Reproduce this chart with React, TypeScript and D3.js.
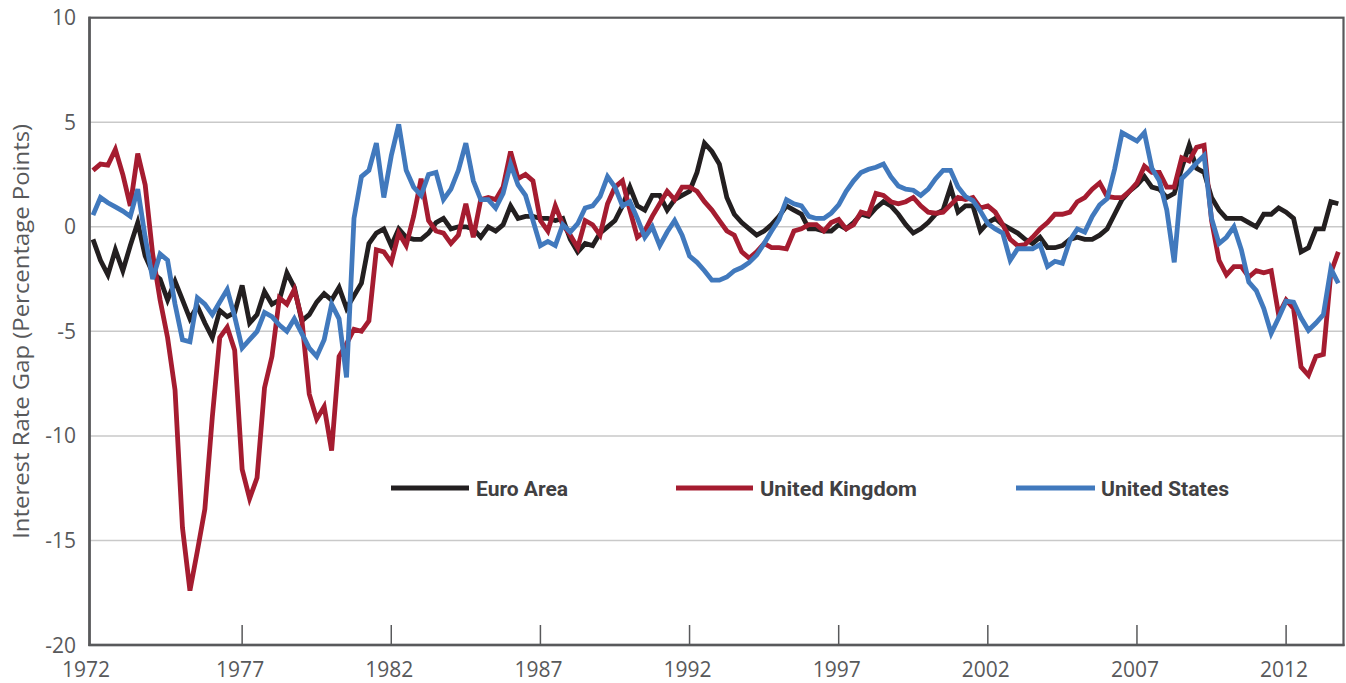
import * as d3 from 'd3';

const START_YEAR = 1972;
const YEAR_TICKS = [1972, 1977, 1982, 1987, 1992, 1997, 2002, 2007, 2012];
const VALUE_TICKS = [10, 5, 0, -5, -10, -15, -20];

// quarterly gaps, 1972Q1 .. 2013Q4
const euroArea = [
  -0.6, -1.6, -2.3, -1.1, -2.1, -0.9, 0.2, -1.4,
  -2.2, -2.5, -3.5, -2.6, -3.5, -4.4, -3.8, -4.6,
  -5.3, -4.0, -4.3, -4.1, -2.8, -4.6, -4.2, -3.1,
  -3.7, -3.5, -2.2, -2.9, -4.5, -4.2, -3.6, -3.2,
  -3.5, -2.9, -3.9, -3.3, -2.7, -0.8, -0.3, -0.1,
  -0.9, -0.1, -0.5, -0.6, -0.6, -0.3, 0.2, 0.4,
  -0.1, 0.0, 0.0, -0.1, -0.5, 0.0, -0.2, 0.1,
  1.0, 0.4, 0.5, 0.5, 0.4, 0.4, 0.3, 0.4,
  -0.6, -1.2, -0.8, -0.9, -0.3, 0.0, 0.3, 1.0,
  1.9, 1.0, 0.8, 1.5, 1.5, 0.8, 1.3, 1.5,
  1.7, 2.6, 4.0, 3.6, 3.0, 1.4, 0.6, 0.2,
  -0.1, -0.4, -0.2, 0.1, 0.5, 1.0, 0.8, 0.6,
  -0.1, -0.1, -0.2, -0.2, 0.1, -0.1, 0.2, 0.6,
  0.5, 0.9, 1.2, 1.0, 0.6, 0.1, -0.3, -0.1,
  0.2, 0.6, 0.8, 1.9, 0.7, 1.0, 1.0, -0.2,
  0.2, 0.4, 0.1, -0.1, -0.3, -0.6, -0.8, -0.5,
  -1.0, -1.0, -0.9, -0.6, -0.5, -0.6, -0.6, -0.4,
  -0.1, 0.6, 1.3, 1.7, 2.0, 2.4, 1.9, 1.8,
  1.4, 1.6, 2.8, 3.9, 2.8, 2.6, 1.4, 0.8,
  0.4, 0.4, 0.4, 0.2, 0.0, 0.6, 0.6, 0.9,
  0.7, 0.4, -1.2, -1.0, -0.1, -0.1, 1.2, 1.1,
];

const unitedKingdom = [
  2.7, 3.0, 2.95, 3.7, 2.5, 1.0, 3.5, 2.0,
  -1.3, -3.5, -5.3, -7.8, -14.4, -17.4, -15.5, -13.5,
  -9.1, -5.3, -4.8, -5.9, -11.6, -13.0, -12.0, -7.7,
  -6.2, -3.4, -3.7, -3.0, -4.4, -8.0, -9.2, -8.6,
  -10.7, -6.2, -5.6, -4.9, -5.0, -4.5, -1.1, -1.2,
  -1.7, -0.3, -0.9, 0.5, 2.3, 0.3, -0.2, -0.3,
  -0.8, -0.4, 1.1, -0.5, 1.3, 1.4, 1.3, 1.9,
  3.6, 2.3, 2.5, 2.2, 0.3, -0.2, 1.0, 0.1,
  -0.4, -1.0, 0.3, 0.1, -0.4, 1.1, 1.9, 2.2,
  0.8, -0.5, -0.2, 0.5, 1.1, 1.7, 1.3, 1.9,
  1.9, 1.7, 1.2, 0.8, 0.3, -0.2, -0.4, -1.2,
  -1.5, -1.2, -0.8, -1.0, -1.0, -1.05, -0.2, -0.1,
  0.1, 0.1, -0.2, 0.2, 0.35, -0.1, 0.1, 0.7,
  0.6, 1.6, 1.5, 1.2, 1.1, 1.2, 1.4, 1.0,
  0.7, 0.65, 0.7, 1.05, 1.4, 1.3, 1.4, 0.9,
  1.0, 0.7, 0.1, -0.6, -0.9, -0.85, -0.5, -0.1,
  0.2, 0.6, 0.6, 0.7, 1.2, 1.4, 1.8, 2.1,
  1.45, 1.4, 1.4, 1.7, 2.1, 2.9, 2.6, 2.6,
  1.9, 1.9, 3.3, 3.15, 3.8, 3.9, 0.3, -1.6,
  -2.3, -1.9, -1.9, -2.4, -2.1, -2.2, -2.1, -4.2,
  -3.5, -3.9, -6.7, -7.1, -6.2, -6.1, -2.2, -1.2,
];

const unitedStates = [
  0.56, 1.4, 1.15, 0.95, 0.75, 0.5, 1.8, -0.5,
  -2.5, -1.3, -1.6, -3.7, -5.4, -5.5, -3.4, -3.7,
  -4.2, -3.6, -3.0, -4.3, -5.8, -5.4, -5.0, -4.1,
  -4.3, -4.7, -5.0, -4.4, -5.1, -5.8, -6.2, -5.4,
  -3.7, -4.4, -7.2, 0.4, 2.4, 2.7, 4.0, 1.4,
  3.4, 4.9, 2.7, 1.9, 1.5, 2.5, 2.6, 1.3,
  1.8, 2.7, 4.0, 2.2, 1.3, 1.3, 0.9, 1.6,
  3.0, 2.0, 1.5, 0.3, -0.9, -0.7, -0.9, 0.1,
  -0.25, 0.15, 0.9, 1.0, 1.45, 2.4, 1.9, 1.0,
  1.2, 0.4, -0.5, 0.0, -0.9, -0.25, 0.3, -0.4,
  -1.4, -1.7, -2.1, -2.55, -2.55, -2.4, -2.1, -1.95,
  -1.7, -1.35, -0.8, -0.2, 0.35, 1.3, 1.1, 1.0,
  0.5, 0.4, 0.4, 0.65, 1.05, 1.7, 2.2, 2.6,
  2.75, 2.85, 3.0, 2.4, 1.95, 1.8, 1.75, 1.5,
  1.8, 2.3, 2.7, 2.7, 1.9, 1.45, 1.25, 0.75,
  0.15, -0.1, -0.3, -1.6, -1.05, -1.05, -1.05, -0.85,
  -1.9, -1.65, -1.75, -0.65, -0.1, -0.25, 0.5, 1.05,
  1.35, 2.75, 4.5, 4.3, 4.1, 4.5, 2.8, 2.2,
  0.8, -1.7, 2.3, 2.65, 3.05, 3.4, 0.4, -0.8,
  -0.5, 0.0, -1.1, -2.65, -3.05, -3.9, -5.1, -4.35,
  -3.55, -3.6, -4.35, -4.95, -4.6, -4.2, -2.0, -2.7,
];

const SERIES = [
  { name: 'Euro Area', values: euroArea, color: '#231f20' },
  { name: 'United Kingdom', values: unitedKingdom, color: '#a51c30' },
  { name: 'United States', values: unitedStates, color: '#4179bd' },
];

// legend placement (pixel layout)
const LEGEND = [
  { x1: 391, x2: 469, tx: 476, tw: 92 },
  { x1: 676, x2: 753, tx: 760, tw: 157 },
  { x1: 1016, x2: 1095, tx: 1101, tw: 128 },
];

const W = 1346;
const H = 683;
const LEFT = 89.5;
const RIGHT = 1343.5;
const TOP = 17.7;
const BOTTOM = 645;
const AXIS = '#58595b';
const FONT = '"Open Sans", "DejaVu Sans", sans-serif';

export default function App() {
  const x = d3.scaleLinear().domain([1972, 2013.75]).range([93, 1338.3]);
  const y = d3.scaleLinear().domain([-20, 10]).range([BOTTOM, TOP]);

  const line = d3
    .line<number>()
    .x((_, i) => x(START_YEAR + i / 4))
    .y((d) => y(d));

  return (
    <svg
      width={W}
      height={H}
      style={{ position: 'absolute', left: 0, top: 0, background: '#fff' }}
    >
      {/* grid */}
      {VALUE_TICKS.filter((v) => v > -20 && v < 10).map((v) => (
        <line
          key={v}
          x1={LEFT}
          x2={RIGHT}
          y1={y(v)}
          y2={y(v)}
          stroke="#c9c9c9"
          strokeWidth={1.5}
        />
      ))}

      {/* series */}
      {SERIES.map((s) => (
        <path
          key={s.name}
          d={line(s.values) || ''}
          fill="none"
          stroke={s.color}
          strokeWidth={4.8}
          strokeLinejoin="miter"
          strokeMiterlimit={4}
        />
      ))}

      {/* frame and axes */}
      <rect
        x={LEFT}
        y={TOP}
        width={RIGHT - LEFT}
        height={BOTTOM - TOP}
        fill="none"
        stroke={AXIS}
        strokeWidth={2.2}
      />
      <line x1={LEFT} x2={LEFT} y1={TOP - 1} y2={BOTTOM + 1} stroke={AXIS} strokeWidth={2.5} />
      <line x1={LEFT - 1} x2={RIGHT + 1} y1={BOTTOM} y2={BOTTOM} stroke={AXIS} strokeWidth={2.5} />
      {YEAR_TICKS.slice(1).map((yr) => (
        <line
          key={yr}
          x1={x(yr)}
          x2={x(yr)}
          y1={BOTTOM - 20}
          y2={BOTTOM}
          stroke={AXIS}
          strokeWidth={1.5}
        />
      ))}

      {/* tick labels */}
      {YEAR_TICKS.map((yr) => (
        <text
          key={yr}
          x={yr === START_YEAR ? LEFT - 3.5 : x(yr) - 2}
          y={677}
          textAnchor="middle"
          fontFamily={FONT}
          fontSize={21}
          fill={AXIS}
        >
          {yr}
        </text>
      ))}
      {VALUE_TICKS.map((v) => (
        <text
          key={v}
          x={76}
          y={y(v)}
          dy="0.36em"
          textAnchor="end"
          fontFamily={FONT}
          fontSize={21}
          fill={AXIS}
        >
          {v}
        </text>
      ))}
      <text
        transform={`translate(29, ${y(-5)}) rotate(-90)`}
        textAnchor="middle"
        fontFamily={FONT}
        fontSize={21}
        fill={AXIS}
        textLength={415}
        lengthAdjust="spacingAndGlyphs"
      >
        Interest Rate Gap (Percentage Points)
      </text>

      {/* legend */}
      {SERIES.map((s, i) => (
        <g key={s.name}>
          <line
            x1={LEGEND[i].x1}
            x2={LEGEND[i].x2}
            y1={488}
            y2={488}
            stroke={s.color}
            strokeWidth={5}
          />
          <text
            x={LEGEND[i].tx}
            y={488}
            dy="0.36em"
            fontFamily='Roboto, "Open Sans", sans-serif'
            fontWeight={700}
            fontSize={21}
            fill="#414042"
            textLength={LEGEND[i].tw}
            lengthAdjust="spacingAndGlyphs"
          >
            {s.name}
          </text>
        </g>
      ))}
    </svg>
  );
}
